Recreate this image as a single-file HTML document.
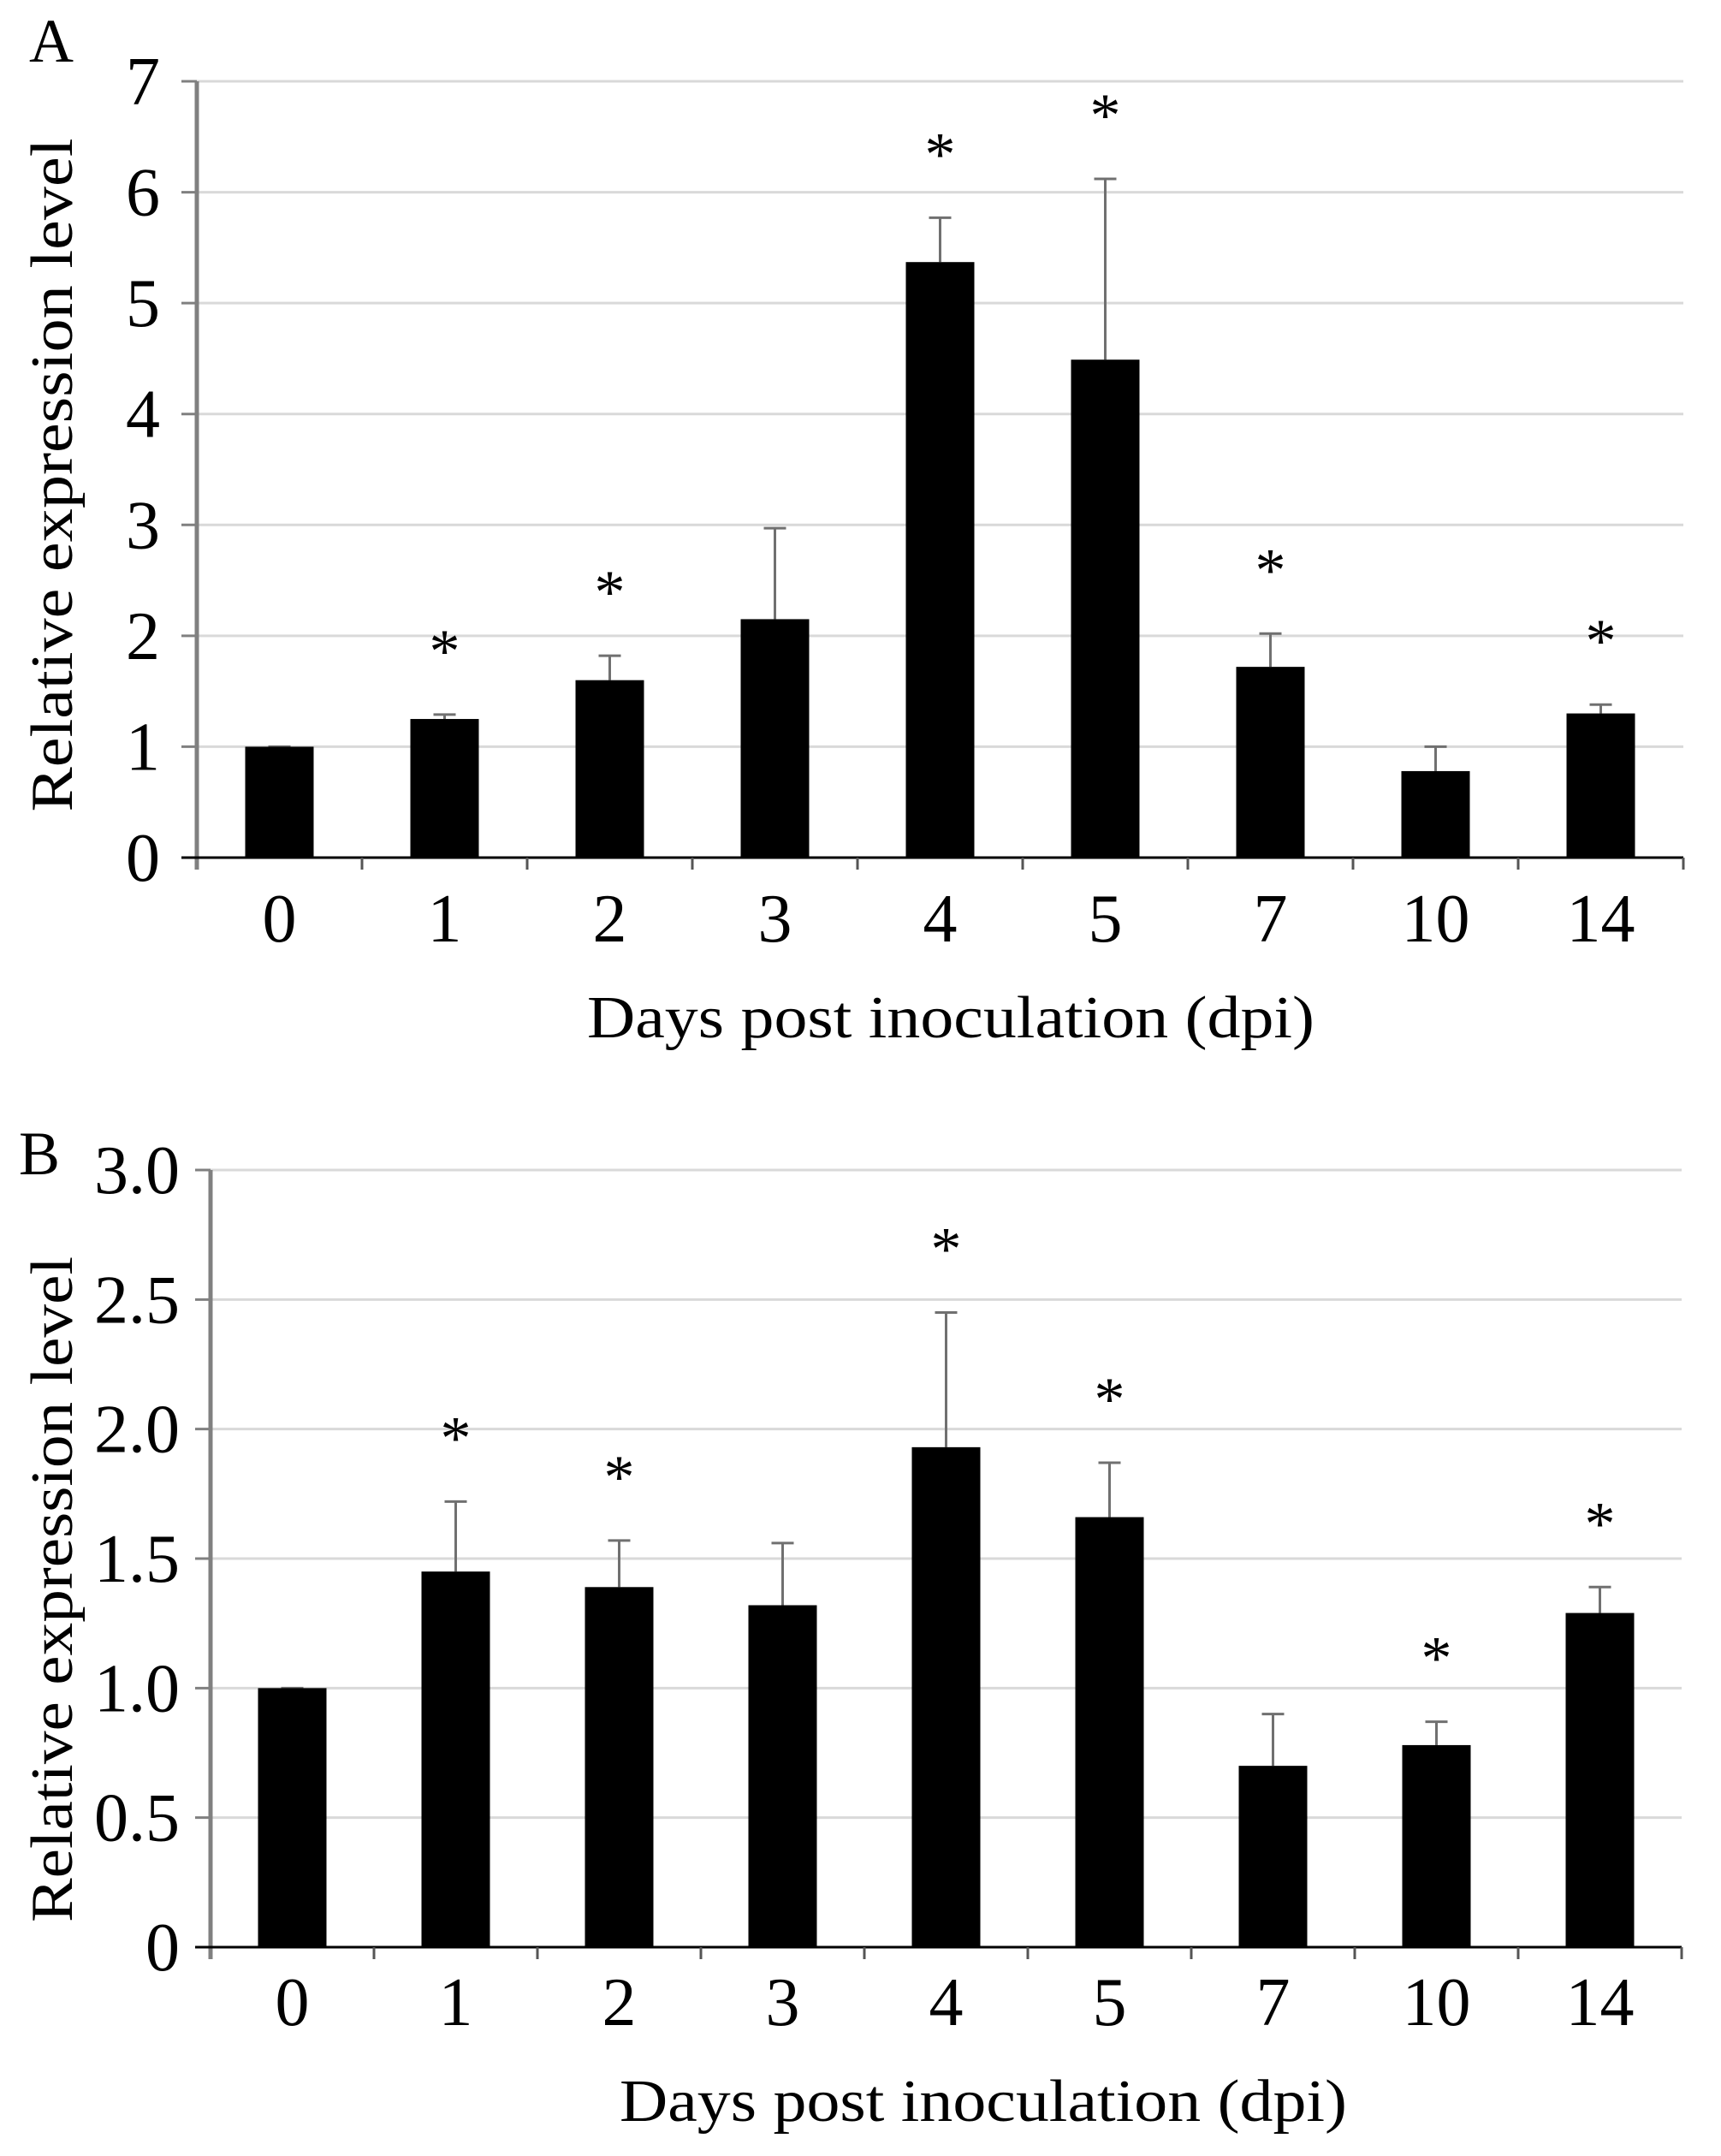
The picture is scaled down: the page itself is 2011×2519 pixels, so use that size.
<!DOCTYPE html>
<html><head><meta charset="utf-8"><style>
html,body{margin:0;padding:0;background:#fff;}
svg{display:block;font-family:"Liberation Serif",serif;}
</style></head><body>
<svg id="fig" width="2011" height="2519" viewBox="0 0 2011 2519"></svg>
<script>
const categories = ["0","1","2","3","4","5","7","10","14"];
const valuesA = [1.0,1.25,1.6,2.15,5.37,4.49,1.72,0.78,1.3];
const errTopA = [1.0,1.29,1.82,2.97,5.77,6.12,2.02,1.0,1.38];
const starsA = [false,true,true,false,true,true,true,false,true];
const ticksA = [0,1,2,3,4,5,6,7];
const tickLabelsA = ["0","1","2","3","4","5","6","7"];
const valuesB = [1.0,1.45,1.39,1.32,1.93,1.66,0.70,0.78,1.29];
const errTopB = [1.0,1.72,1.57,1.56,2.45,1.87,0.90,0.87,1.39];
const starsB = [false,true,true,false,true,true,false,true,true];
const ticksB = [0,0.5,1,1.5,2,2.5,3];
const tickLabelsB = ["0","0.5","1.0","1.5","2.0","2.5","3.0"];

const NS="http://www.w3.org/2000/svg";
const svg=document.getElementById('fig');
function mk(tag,attrs,parent){const e=document.createElementNS(NS,tag);for(const k in attrs)e.setAttribute(k,attrs[k]);(parent||svg).appendChild(e);return e;}

function drawChart(cfg){
  const g=mk('g',{});
  
  
  const yScale=v=>cfg.y0-(v-cfg.min)/(cfg.max-cfg.min)*(cfg.y0-cfg.yTop);
  const band=(cfg.xRight-cfg.xAxis)/categories.length;
  const xCenter=i=>cfg.xAxis+band*(i+0.5);
  cfg.ticks.forEach((t,i)=>{
    const y=yScale(t);
    if(t!==cfg.min){
      const gl=mk('line',{x1:cfg.xAxis,x2:cfg.xRight,y1:y,y2:y,stroke:'#d9d9d9','stroke-width':3},g);
      
      
    }
    const tk=mk('line',{x1:cfg.xAxis-18,x2:cfg.xAxis,y1:y,y2:y,stroke:'#808080','stroke-width':3},g);
    
    
    const tl=mk('text',{x:cfg.labelRight,y:y+27,'text-anchor':'end','font-size':80,fill:'#000'},g);
    tl.textContent=cfg.tickLabels[i];
    
    
  });
  const ya=mk('line',{x1:cfg.xAxis,x2:cfg.xAxis,y1:cfg.yTop,y2:cfg.y0+14,stroke:'#808080','stroke-width':5},g);
  
  
  categories.forEach((c,i)=>{
    const cx=xCenter(i), w=80;
    const yv=yScale(cfg.values[i]);
    const eb=mk('line',{x1:cx,x2:cx,y1:yScale(cfg.errTop[i]),y2:yv,stroke:'#707070','stroke-width':3},g);
    
    
    const ec=mk('line',{x1:cx-13,x2:cx+13,y1:yScale(cfg.errTop[i]),y2:yScale(cfg.errTop[i]),stroke:'#707070','stroke-width':3},g);
    
    
    const r=mk('rect',{x:cx-w/2,y:yv,width:w,height:cfg.y0-yv,fill:'#000'},g);
    
    
    if(cfg.stars[i]){
      const st=mk('text',{x:cx,y:yScale(cfg.errTop[i])-80+30,'text-anchor':'middle','font-size':72,fill:'#000'},g);
      st.textContent='*';
      
      
    }
    const xl=mk('text',{x:cx,y:cfg.xLabelY,'text-anchor':'middle','font-size':80,fill:'#000'},g);
    xl.textContent=c;
    
    
  });
  const xa=mk('line',{x1:cfg.xAxis-18,x2:cfg.xRight,y1:cfg.y0,y2:cfg.y0,stroke:'#000','stroke-width':3},g);
  
  
  for(let i=1;i<=categories.length;i++){
    const x=cfg.xAxis+band*i;
    const t=mk('line',{x1:x,x2:x,y1:cfg.y0,y2:cfg.y0+14,stroke:'#555','stroke-width':3},g);
    
    
  }
  const xt=mk('text',{x:cfg.xTitleX,y:cfg.xTitleY,'text-anchor':'middle','font-size':70,fill:'#000',textLength:850,lengthAdjust:'spacingAndGlyphs'},g);
  xt.textContent='Days post inoculation (dpi)';
  
  
  const yt=mk('text',{x:0,y:0,'text-anchor':'middle','font-size':70,fill:'#000',textLength:cfg.yTitleLen,lengthAdjust:'spacingAndGlyphs',transform:`translate(${cfg.yTitleX},${cfg.yTitleY}) rotate(-90)`},g);
  yt.textContent='Relative expression level';
  
  
  const pl=mk('text',{x:cfg.panelX,y:cfg.panelY,'font-size':72,fill:'#000'},g);
  pl.textContent=cfg.panel;
  
  
}

drawChart({name:'chart-a',panel:'A',panelX:34,panelY:72,values:valuesA,errTop:errTopA,stars:starsA,ticks:ticksA,tickLabels:tickLabelsA,min:0,max:7,yTop:95,y0:1002,xAxis:230,xRight:1967,labelRight:187,xLabelY:1100,xTitleX:1111,xTitleY:1212,yTitleX:84,yTitleY:555,yTitleLen:787});
drawChart({name:'chart-b',panel:'B',panelX:22,panelY:1372,values:valuesB,errTop:errTopB,stars:starsB,ticks:ticksB,tickLabels:tickLabelsB,min:0,max:3,yTop:1367,y0:2275,xAxis:246,xRight:1965,labelRight:210,xLabelY:2366,xTitleX:1149,xTitleY:2478,yTitleX:84,yTitleY:1857,yTitleLen:778});
</script>
</body></html>
